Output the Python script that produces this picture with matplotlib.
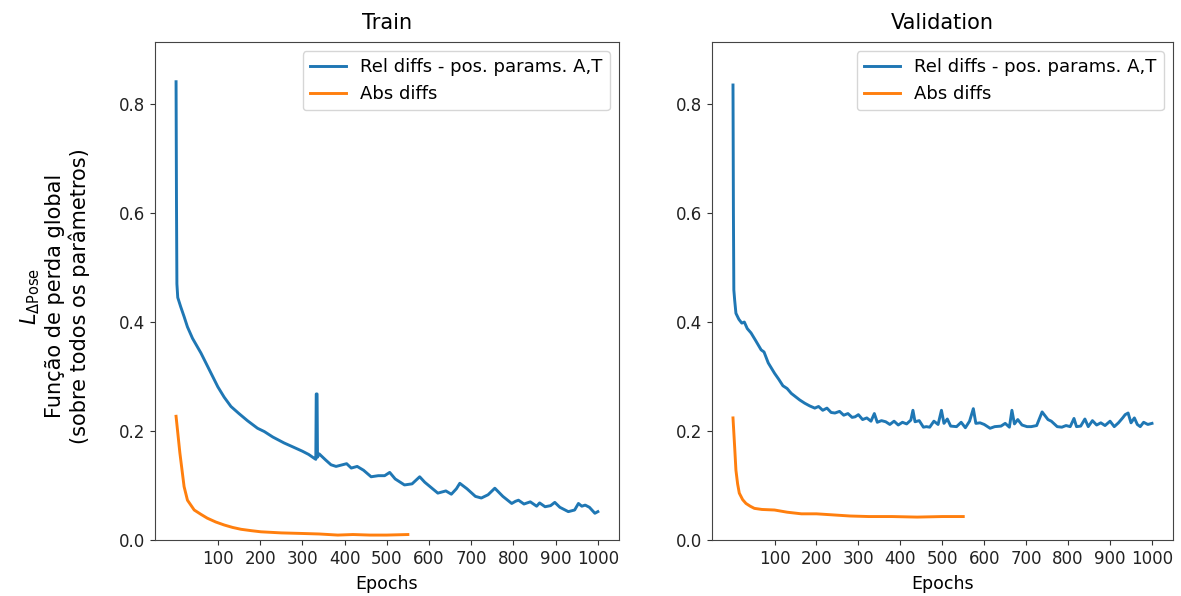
import matplotlib.pyplot as plt

# loss curves per epoch (train / validation)
train_rel_epochs = [1, 2, 3, 5, 12, 20, 28, 40, 60, 80, 100, 115, 131, 150, 170, 194, 210, 230,
                    257, 280, 300, 315, 328, 332, 333, 335, 336, 340, 355, 368, 380, 395, 405,
                    416, 430, 445, 463, 480, 495, 507, 520, 542, 560, 578, 590, 621, 640, 653,
                    665, 673, 690, 710, 724, 740, 756, 775, 796, 805, 812, 825, 840, 855, 862,
                    875, 888, 898, 910, 930, 945, 954, 962, 970, 980, 993, 1000]
train_rel = [0.841, 0.62, 0.47, 0.445, 0.428, 0.41, 0.391, 0.37, 0.343, 0.312, 0.281, 0.262,
             0.245, 0.232, 0.219, 0.205, 0.199, 0.189, 0.178, 0.170, 0.163, 0.157, 0.150, 0.148,
             0.268, 0.268, 0.152, 0.158, 0.147, 0.138, 0.135, 0.138, 0.140, 0.132, 0.135, 0.128,
             0.116, 0.118, 0.118, 0.124, 0.112, 0.101, 0.103, 0.116, 0.106, 0.086, 0.090, 0.084,
             0.094, 0.104, 0.094, 0.080, 0.077, 0.083, 0.095, 0.080, 0.067, 0.071, 0.073, 0.066,
             0.070, 0.062, 0.068, 0.061, 0.063, 0.069, 0.060, 0.052, 0.055, 0.067, 0.062, 0.064,
             0.060, 0.049, 0.052]

train_abs_epochs = [1, 10, 20, 28, 44, 60, 75, 95, 115, 135, 155, 180, 202, 250, 297, 340,
                    384, 420, 460, 500, 550]
train_abs = [0.227, 0.160, 0.098, 0.073, 0.055, 0.047, 0.040, 0.033, 0.0275, 0.023, 0.0196,
             0.017, 0.015, 0.013, 0.012, 0.011, 0.009, 0.010, 0.009, 0.009, 0.010]

val_rel_epochs = [1, 2, 3, 5, 8, 15, 22, 28, 35, 44, 55, 68, 75, 85, 100, 110, 120, 130, 140,
                  150, 160, 172, 184, 196, 205, 215, 225, 235, 244, 255, 265, 275, 285, 292,
                  300, 310, 320, 330, 338, 345, 355, 365, 375, 385, 395, 405, 415, 425, 430,
                  435, 445, 455, 462, 470, 480, 490, 498, 504, 512, 520, 534, 545, 555, 565,
                  574, 580, 590, 600, 614, 625, 640, 650, 660, 666, 672, 680, 690, 702, 712,
                  725, 738, 745, 752, 760, 774, 785, 795, 805, 814, 820, 830, 840, 848, 858,
                  868, 878, 888, 900, 910, 920, 930, 936, 943, 950, 958, 965, 972, 980, 990,
                  1000]
val_rel = [0.835, 0.60, 0.459, 0.44, 0.416, 0.405, 0.398, 0.400, 0.388, 0.380, 0.366, 0.349,
           0.345, 0.325, 0.306, 0.295, 0.283, 0.278, 0.269, 0.263, 0.257, 0.251, 0.246, 0.242,
           0.245, 0.238, 0.242, 0.234, 0.233, 0.236, 0.229, 0.232, 0.225, 0.226, 0.230, 0.221,
           0.224, 0.218, 0.232, 0.216, 0.219, 0.217, 0.212, 0.218, 0.211, 0.216, 0.213, 0.220,
           0.238, 0.217, 0.219, 0.207, 0.208, 0.207, 0.218, 0.212, 0.238, 0.214, 0.222, 0.209,
           0.208, 0.216, 0.206, 0.218, 0.241, 0.214, 0.215, 0.212, 0.205, 0.208, 0.209, 0.214,
           0.207, 0.238, 0.213, 0.221, 0.211, 0.208, 0.208, 0.210, 0.235, 0.228, 0.221, 0.218,
           0.208, 0.207, 0.210, 0.208, 0.223, 0.208, 0.209, 0.222, 0.208, 0.219, 0.211, 0.215,
           0.210, 0.218, 0.208, 0.215, 0.224, 0.230, 0.233, 0.215, 0.224, 0.212, 0.208, 0.216,
           0.212, 0.214]

val_abs_epochs = [1, 5, 8, 12, 16, 24, 32, 42, 52, 70, 100, 130, 164, 200, 240, 280, 325,
                  380, 440, 500, 550]
val_abs = [0.224, 0.170, 0.128, 0.103, 0.086, 0.074, 0.067, 0.062, 0.058, 0.056, 0.055, 0.051,
           0.048, 0.048, 0.046, 0.044, 0.043, 0.043, 0.042, 0.043, 0.043]

xticks = [100, 200, 300, 400, 500, 600, 700, 800, 900, 1000]
yticks = [0.0, 0.2, 0.4, 0.6, 0.8]

fig = plt.figure(figsize=(11.81, 5.96), dpi=100)
ax1 = fig.add_axes([0.1312, 0.094, 0.3929, 0.8356])
ax2 = fig.add_axes([0.6029, 0.094, 0.3903, 0.8356])

panels = [(ax1, 'Train', train_rel_epochs, train_rel, train_abs_epochs, train_abs),
          (ax2, 'Validation', val_rel_epochs, val_rel, val_abs_epochs, val_abs)]

for ax, title, xr, yr, xa, ya in panels:
    ax.plot(xr, yr, color='tab:blue', linewidth=2.1, label='Rel diffs - pos. params. A,T')
    ax.plot(xa, ya, color='tab:orange', linewidth=2.1, label='Abs diffs')
    ax.set_xlim(-49, 1050)
    ax.set_ylim(0, 0.914)
    ax.set_xticks(xticks)
    ax.set_yticks(yticks)
    ax.tick_params(labelsize=12, colors='#333333', labelcolor='#222222')
    for sp in ax.spines.values():
        sp.set_color('#444444')
    ax.set_title(title, fontsize=15, pad=9)
    ax.set_xlabel('Epochs', fontsize=12.5, labelpad=5)
    ax.legend(loc='upper right', fontsize=13)

ax1.set_ylabel('$L_{\\Delta \\mathrm{Pose}}$\nFunção de perda global\n(sobre todos os parâmetros)',
               fontsize=15)
ax1.yaxis.set_label_coords(-0.14, 0.49)

plt.savefig('out.png', dpi=100)
